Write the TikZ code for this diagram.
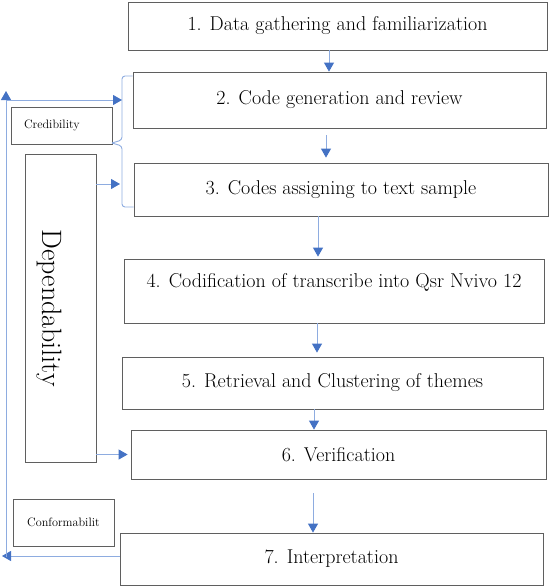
\documentclass[tikz,border=0pt]{standalone}
\usepackage{tikz}
\usetikzlibrary{arrows.meta}

\definecolor{boxgray}{RGB}{95,95,95}
\definecolor{linkblue}{RGB}{142,172,224}
\definecolor{tipblue}{RGB}{68,114,196}

\tikzset{
	stage/.style={draw=boxgray, rectangle, line width=0.8pt, font=\fontsize{20}{23}\selectfont},
	side/.style={draw=boxgray, rectangle, line width=0.8pt, font=\fontsize{12.2}{14}\selectfont},
	flow/.style={draw=linkblue, line width=0.9pt, -{Triangle[length=9pt, width=10pt, color=tipblue]}},
	link/.style={draw=linkblue, line width=0.9pt}
}

\begin{document}
\begin{tikzpicture}[x=1pt, y=-1pt]
				\useasboundingbox (0,0) rectangle (550,587);
				\node[stage, minimum width=419pt, minimum height=48pt] (S1)at(337.5, 26) {1. Data gathering and familiarization};
				\node[stage, minimum width=413pt, minimum height=56pt] (S2)at(339.5, 100) {2. Code generation and review};
				\node[stage, minimum width=414pt, minimum height=53pt] (S3)at(341, 189.5) {3. Codes assigning to text sample};
				\node[stage, minimum width=420pt, minimum height=64pt, text height=14pt, text depth=22pt] (S4)at(334, 291) {4. Codification of transcribe into Qsr Nvivo 12};
				\node[stage, minimum width=421pt, minimum height=52pt] (S5)at(332.5, 383) {5. Retrieval and Clustering of themes};
				\node[stage, minimum width=415pt, minimum height=49pt] (S6)at(338.5, 454.5) {6. Verification};
				\node[stage, minimum width=423pt, minimum height=52pt] (S7)at(331.5, 559) {7. Interpretation};
				\node[side, minimum width=101pt, minimum height=37pt, text width=75pt, inner xsep=13pt, align=left] (Cred)at(61.5, 125.5) {Credibility};
				\node[side, minimum width=101pt, minimum height=47pt] (Conf)at(63.5, 522.5) {Conformabilit};
				\node[draw=boxgray, line width=0.8pt, rotate=-90, minimum width=308pt, minimum height=71pt, text height=36pt, text depth=0pt, font=\fontsize{28}{31}\selectfont] (Dep)at(60.5, 308) {Dependability};
				% main chain
				\draw[flow] ([xshift=-8.5pt]S1.south) -- ([xshift=-10.5pt]S2.north);
				\draw[flow] ([xshift=-13.5pt, yshift=-7pt]S2.south) -- ([xshift=-15pt, yshift=5pt]S3.north);
				\draw[flow] ([xshift=-23pt]S3.south) -- ([xshift=-16pt, yshift=2pt]S4.north);
				\draw[flow] ([xshift=-17pt]S4.south) -- ([xshift=-15.5pt, yshift=4pt]S5.north);
				\draw[flow] ([xshift=-18.5pt]S5.south) -- ([xshift=-24.5pt]S6.north);
				\draw[flow] ([xshift=-25.5pt, yshift=-14pt]S6.south) -- ([xshift=-18.5pt]S7.north);
				% bracket
				\draw[link, rounded corners=3pt] (S2.west |- 0,76) -- (122,76) -- (122,140) -- (112,143);
				\draw[link, rounded corners=3pt] (112,143) -- (122,146) -- (122,207) -- (S3.west |- 0,207);
				% loop back
				\coordinate (LoopEnd) at (2,556);
				\coordinate (LoopLow) at (6,557);
				\coordinate (LoopTop) at (6,91);
				\coordinate (LoopMid) at (6,100);
				\coordinate (BrTop) at (122,100);
				\coordinate (BrMid) at (120,184);
				\draw[flow] ([yshift=3pt]S7.west) -- (LoopEnd);
				\draw[flow] (LoopLow) -- (LoopTop);
				\draw[flow] (LoopMid) -- (BrTop);
				\draw[flow] (Dep.north |- BrMid) -- (BrMid);
				\draw[flow, shorten >=3pt] (Dep.north |- S6.west) -- (S6.west);
			\end{tikzpicture}
\end{document}
